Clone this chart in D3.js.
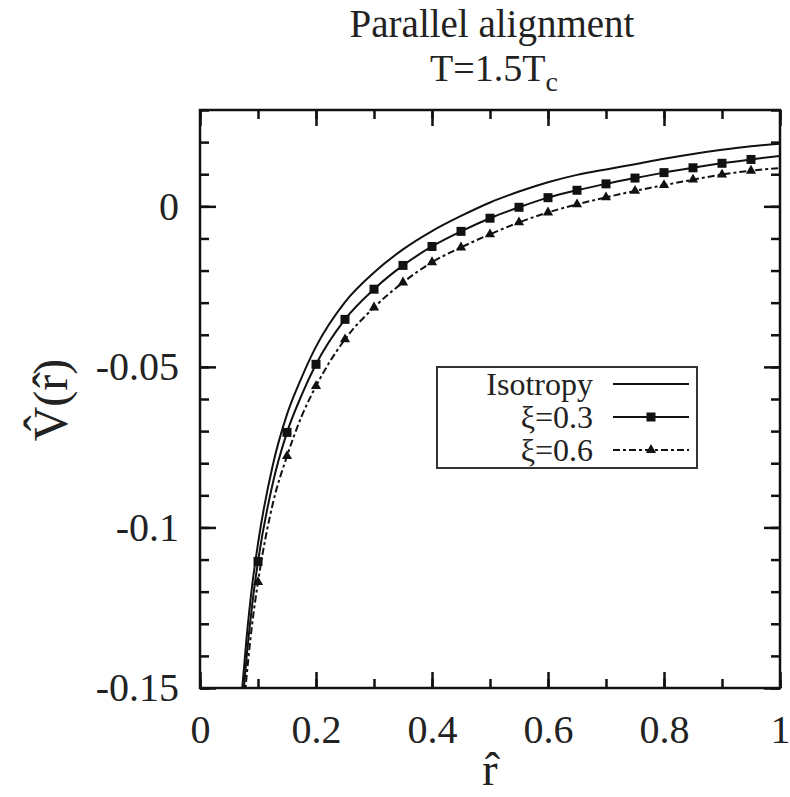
<!DOCTYPE html>
<html>
<head>
<meta charset="utf-8">
<script src="https://cdn.jsdelivr.net/npm/d3@7"></script>
<style>
  body { margin: 0; background: #fff; }
  svg { display: block; }
  text { font-family: "Liberation Serif", "DejaVu Serif", serif; fill: #222; }
</style>
</head>
<body>
<script>

// r-hat grid and potential values
const rValues = [0.07, 0.08, 0.09, 0.1, 0.125, 0.15, 0.175, 0.2, 0.25, 0.3, 0.35, 0.4, 0.45, 0.5,
  0.55, 0.6, 0.65, 0.7, 0.75, 0.8, 0.85, 0.9, 0.95, 1.0];
const isotropy = [-0.156, -0.135, -0.118, -0.105, -0.081, -0.0648, -0.0534, -0.0437, -0.0298, -0.0206,
  -0.0134, -0.0077, -0.0030, 0.0012, 0.0046, 0.0075, 0.0098, 0.0115, 0.0131, 0.0148, 0.0163, 0.0176, 0.0187, 0.0195];
const xi03 = [-0.162, -0.141, -0.124, -0.1106, -0.0866, -0.0704, -0.0589, -0.0492, -0.0352, -0.0258,
  -0.0184, -0.0125, -0.0078, -0.0037, -0.0003, 0.0027, 0.0050, 0.0070, 0.0088, 0.0105, 0.0120, 0.0134, 0.0146, 0.0157];
const xi06 = [-0.168, -0.147, -0.130, -0.117, -0.093, -0.0778, -0.0655, -0.056, -0.0414, -0.0315,
  -0.0237, -0.0174, -0.0128, -0.0087, -0.0050, -0.0019, 0.0006, 0.0028, 0.0048, 0.0066, 0.0083, 0.0099, 0.0111, 0.0119];
const markerR = [0.1, 0.15, 0.2, 0.25, 0.3, 0.35, 0.4, 0.45, 0.5, 0.55, 0.6, 0.65, 0.7, 0.75, 0.8, 0.85, 0.9, 0.95];

const seriesNames = ["Isotropy", "\u03be=0.3", "\u03be=0.6"];
const xTickLabels = ["0", "0.2", "0.4", "0.6", "0.8", "1"];
const yTickLabels = ["0", "-0.05", "-0.1", "-0.15"];

const width = 790;
const height = 797;
const margin = { top: 110, right: 10, bottom: 109, left: 200 };

const x = d3.scaleLinear().domain([0, 1]).range([margin.left, width - margin.right]);
const y = d3.scaleLinear().domain([-0.15, 0.03]).range([height - margin.bottom, margin.top]);

const svg = d3.select("body").append("svg")
  .attr("width", width)
  .attr("height", height);

svg.append("defs").append("clipPath").attr("id", "plotclip")
  .append("rect")
  .attr("x", x(0)).attr("y", y(0.03))
  .attr("width", x(1) - x(0)).attr("height", y(-0.15) - y(0.03));

// ticks on all four sides, minor ones shorter
const xMinor = d3.range(0, 1.0001, 0.1);
const yMinor = d3.range(-0.15, 0.0301, 0.01);
const xMajor = xTickLabels.map(Number);
const yMajor = yTickLabels.map(Number);

function tickStyle(g) {
  g.select(".domain").remove();
  g.selectAll("line").attr("stroke", "#111").attr("stroke-width", 2.5);
  g.selectAll("text").style("font-size", "40px").attr("fill", "#222");
}

svg.append("g").attr("transform", `translate(0,${y(-0.15)})`)
  .call(d3.axisBottom(x).tickValues(xMinor).tickSize(-9).tickFormat(""))
  .call(tickStyle);
svg.append("g").attr("transform", `translate(0,${y(-0.15)})`)
  .call(d3.axisBottom(x).tickValues(xMajor).tickSize(-16).tickPadding(27).tickFormat((d, i) => xTickLabels[i]))
  .call(tickStyle);
svg.append("g").attr("transform", `translate(0,${y(0.03)})`)
  .call(d3.axisTop(x).tickValues(xMinor).tickSize(-9).tickFormat(""))
  .call(tickStyle);
svg.append("g").attr("transform", `translate(0,${y(0.03)})`)
  .call(d3.axisTop(x).tickValues(xMajor).tickSize(-16).tickFormat(""))
  .call(tickStyle);

svg.append("g").attr("transform", `translate(${x(0)},0)`)
  .call(d3.axisLeft(y).tickValues(yMinor).tickSize(-9).tickFormat(""))
  .call(tickStyle);
svg.append("g").attr("transform", `translate(${x(0)},0)`)
  .call(d3.axisLeft(y).tickValues(yMajor).tickSize(-16).tickPadding(21).tickFormat((d, i) => yTickLabels[i]))
  .call(tickStyle);
svg.append("g").attr("transform", `translate(${x(1)},0)`)
  .call(d3.axisRight(y).tickValues(yMinor).tickSize(-9).tickFormat(""))
  .call(tickStyle);
svg.append("g").attr("transform", `translate(${x(1)},0)`)
  .call(d3.axisRight(y).tickValues(yMajor).tickSize(-16).tickFormat(""))
  .call(tickStyle);

// frame
svg.append("rect")
  .attr("x", x(0)).attr("y", y(0.03))
  .attr("width", x(1) - x(0)).attr("height", y(-0.15) - y(0.03))
  .attr("fill", "none").attr("stroke", "#111").attr("stroke-width", 2.5);

// curves
const line = d3.line()
  .x(d => x(d[0]))
  .y(d => y(d[1]))
  .curve(d3.curveMonotoneX);

const plot = svg.append("g").attr("clip-path", "url(#plotclip)");

const seriesValues = [isotropy, xi03, xi06];
const dashes = [null, null, "7,3,3,3"];

seriesValues.forEach((vals, i) => {
  plot.append("path")
    .datum(rValues.map((r, j) => [r, vals[j]]))
    .attr("fill", "none")
    .attr("stroke", "#111")
    .attr("stroke-width", 2)
    .attr("stroke-dasharray", dashes[i])
    .attr("d", line);
});

const valueAt = (vals, r) => vals[rValues.indexOf(r)];

plot.append("g").selectAll("rect")
  .data(markerR)
  .join("rect")
  .attr("x", d => x(d) - 4.5)
  .attr("y", d => y(valueAt(xi03, d)) - 4.5)
  .attr("width", 9).attr("height", 9)
  .attr("fill", "#111");

const tri = d3.symbol().type(d3.symbolTriangle).size(45);
plot.append("g").selectAll("path")
  .data(markerR)
  .join("path")
  .attr("transform", d => `translate(${x(d)},${y(valueAt(xi06, d))})`)
  .attr("d", tri)
  .attr("fill", "#111");

// legend
const legend = svg.append("g").attr("transform", "translate(437,367)");
legend.append("rect")
  .attr("width", 260).attr("height", 101)
  .attr("fill", "#fff").attr("stroke", "#333").attr("stroke-width", 2);

seriesNames.forEach((name, i) => {
  const cy = 17 + i * 33;
  legend.append("text")
    .attr("x", 156).attr("y", cy)
    .attr("dy", "0.33em")
    .attr("text-anchor", "end")
    .style("font-size", "32px")
    .text(name);
  legend.append("line")
    .attr("x1", 176).attr("x2", 252)
    .attr("y1", cy).attr("y2", cy)
    .attr("stroke", "#111").attr("stroke-width", 2)
    .attr("stroke-dasharray", dashes[i]);
  if (i == 1) {
    legend.append("rect")
      .attr("x", 214 - 4.5).attr("y", cy - 4.5)
      .attr("width", 9).attr("height", 9).attr("fill", "#111");
  }
  if (i == 2) {
    legend.append("path")
      .attr("transform", `translate(214,${cy})`)
      .attr("d", tri).attr("fill", "#111");
  }
});

// title
svg.append("text")
  .attr("x", 492).attr("y", 37)
  .attr("text-anchor", "middle")
  .style("font-size", "39px")
  .text("Parallel alignment");
const t2 = svg.append("text")
  .attr("x", 494).attr("y", 81)
  .attr("text-anchor", "middle")
  .style("font-size", "38px");
t2.append("tspan").text("T=1.5T");
t2.append("tspan").attr("dy", 10).style("font-size", "28px").text("c");

// axis labels, hats as combining circumflex
svg.append("text")
  .attr("x", x(0.5)).attr("y", 785)
  .attr("text-anchor", "middle")
  .style("font-size", "46px")
  .text("r\u0302");

svg.append("text")
  .attr("transform", "translate(67,400) rotate(-90)")
  .attr("text-anchor", "middle")
  .style("font-size", "48px")
  .text("V\u0302(r\u0302)");

</script>
</body>
</html>
